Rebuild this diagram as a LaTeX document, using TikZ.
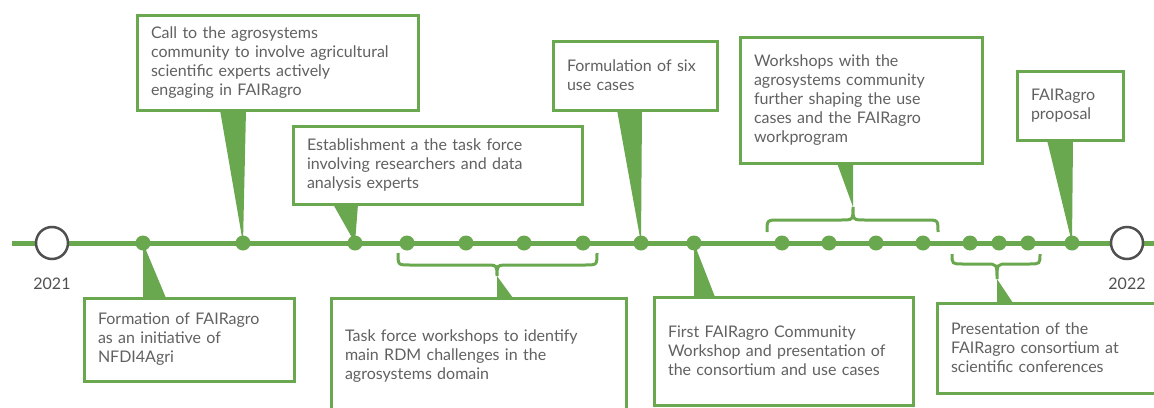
\documentclass[tikz,border=0pt]{standalone}
\usepackage{fontspec}
\setmainfont{Lato}
\usetikzlibrary{positioning}

\definecolor{agro}{HTML}{6AA84F}
\definecolor{textgray}{HTML}{616161}
\definecolor{markgray}{HTML}{505050}

\begin{document}
\begin{tikzpicture}[x=1pt,y=-1pt]
		\tikzstyle{box} = [rectangle, draw=agro, line width=3pt, fill=white, text=textgray, align=left, inner xsep=14pt, inner ysep=0pt, outer sep=0pt, anchor=north west, font=\fontsize{16}{19}\selectfont]
		\tikzstyle{dot} = [circle, fill=agro, minimum size=15pt, inner sep=0pt]
		\tikzstyle{yearmark} = [circle, draw=markgray, line width=2.5pt, fill=white, minimum size=32pt, inner sep=0pt]
		\tikzstyle{year} = [text=markgray, font=\fontsize{16}{18}\selectfont]
		\tikzstyle{pointer} = [fill=agro]
		\tikzstyle{brace} = [draw=agro, line width=3pt]
		\tikzstyle{timeline} = [draw=agro, line width=5pt]
		\useasboundingbox (0,0) rectangle (1154,407);
		\clip (0,0) rectangle (1154,407);

		% boxes above the line
		\node [box, text width=253pt, minimum height=95pt] (call) at (137,15) {Call to the agrosystems\\community to involve agricultural\\scientific experts actively\\engaging in FAIRagro};
		\node [box, text width=261pt, minimum height=78pt] (taskforce) at (293,126) {Establishment a the task force\\involving researchers and data\\analysis experts};
		\node [box, text width=136pt, minimum height=69pt] (usecases) at (553,41) {Formulation of six\\use cases};
		\node [box, text width=214pt, minimum height=126pt] (shaping) at (740,37) {Workshops with the\\agrosystems community\\further shaping the use\\cases and the FAIRagro\\workprogram};
		\node [box, text width=78pt, minimum height=69pt] (proposal) at (1017,71) {FAIRagro\\proposal};

		% boxes below the line
		\node [box, text width=182pt, minimum height=83pt] (formation) at (84,298) {Formation of FAIRagro\\as an initiative of\\NFDI4Agri};
		\node [box, text width=267pt, minimum height=116pt] (tfworkshops) at (331,298) {Task force workshops to identify\\main RDM challenges in the\\agrosystems domain};
		\node [box, text width=231pt, minimum height=108pt] (firstws) at (654,297) {First FAIRagro Community\\Workshop and presentation of\\the consortium and use cases};
		\node [box, text width=212pt, minimum height=90pt] (conferences) at (937,303) {Presentation of the\\FAIRagro consortium at\\scientific conferences};

		% timeline
		\coordinate (lineL) at (12,243);
		\coordinate (lineR) at (1160,243);
		\path [timeline] (lineL) -- (lineR);

		\node [yearmark] (start) at (52,243) {};
		\node [yearmark] (end) at (1127,243) {};
		\node [year, below=14pt of start] (y2021) {2021};
		\node [year, below=14pt of end] (y2022) {2022};

		\node [dot] (d1) at (143,243) {};
		\node [dot] (d2) at (243,243) {};
		\node [dot] (d3) at (355,243) {};
		\node [dot] (d4) at (407,243) {};
		\node [dot] (d5) at (466,243) {};
		\node [dot] (d6) at (524,243) {};
		\node [dot] (d7) at (583,243) {};
		\node [dot] (d8) at (641,243) {};
		\node [dot] (d9) at (694,243) {};
		\node [dot] (d10) at (782,243) {};
		\node [dot] (d11) at (829,243) {};
		\node [dot] (d12) at (876,243) {};
		\node [dot] (d13) at (923,243) {};
		\node [dot] (d14) at (970,243) {};
		\node [dot] (d15) at (999,243) {};
		\node [dot] (d16) at (1028,243) {};
		\node [dot] (d17) at (1072,243) {};

		% braces
		\coordinate (tfcusp) at (497,276);
		\coordinate (shcusp) at (853,207);
		\coordinate (cfcusp) at (997,279);
		\path [brace] (398,253) .. controls (398,265) .. (410,265) -- (485,265) .. controls (497,265) .. (tfcusp) .. controls (497,265) .. (509,265) -- (585,265) .. controls (597,265) .. (597,253);
		\path [brace] (767,232) .. controls (767,220) .. (779,220) -- (841,220) .. controls (853,220) .. (shcusp) .. controls (853,220) .. (865,220) -- (926,220) .. controls (938,220) .. (938,232);
		\path [brace] (952,254) .. controls (952,264) .. (963,264) -- (986,264) .. controls (997,264) .. (cfcusp) .. controls (997,264) .. (1008,264) -- (1029,264) .. controls (1040,264) .. (1040,254);

		% pointers
		\path [pointer] (d1.center) -- (d1.center |- formation.north) -- ++(23,0) -- cycle;
		\path [pointer] (d2.center) -- ([xshift=3pt]d2.center |- call.south) -- ++(-26,0) -- cycle;
		\path [pointer] (d3.center) -- ([xshift=3pt]d3.center |- taskforce.south) -- ++(-25,0) -- cycle;
		\path [pointer] (d8.center) -- ([xshift=1pt]d8.center |- usecases.south) -- ++(-25,0) -- cycle;
		\path [pointer] (d9.center) -- (d9.center |- firstws.north) -- ++(21,0) -- cycle;
		\path [pointer] (d17.center) -- ([xshift=1pt]d17.center |- proposal.south) -- ++(-26,0) -- cycle;
		\path [pointer] (tfcusp) -- (tfcusp |- tfworkshops.north) -- ++(16,0) -- cycle;
		\path [pointer] (shcusp) -- (shcusp |- shaping.south) -- ++(-16,0) -- cycle;
		\path [pointer] (cfcusp) -- (cfcusp |- conferences.north) -- ++(16,0) -- cycle;
	\end{tikzpicture}
\end{document}
